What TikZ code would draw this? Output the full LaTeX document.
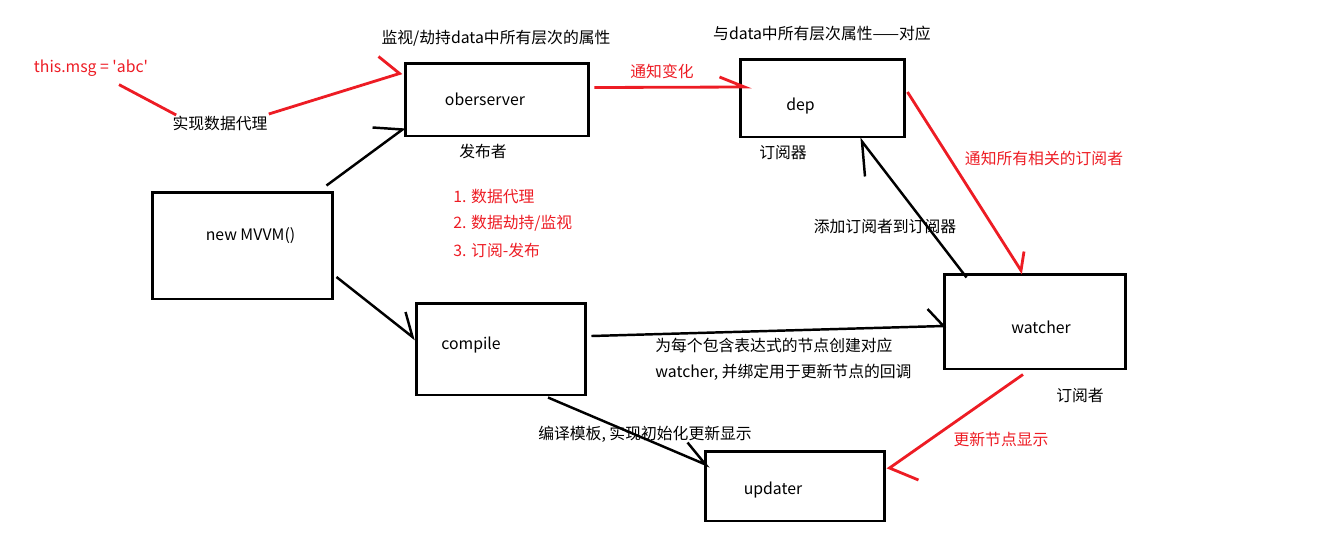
\documentclass[tikz,border=0pt]{standalone}
\usepackage{fontspec}
\setmainfont{Noto Sans CJK SC}
\newfontfamily\plainfont{Noto Sans CJK SC}
\usetikzlibrary{calc}
\definecolor{pred}{HTML}{ED1C24}
\tikzset{
  x=0.02cm, y=-0.02cm,
  box/.style={draw, line width=1.7pt, rectangle, inner sep=0pt},
  lbl/.style={font=\fontsize{9pt}{11pt}\selectfont, inner sep=0pt, text=black},
  rlbl/.style={lbl, text=pred},
  conn/.style={line width=1.4pt, black},
  rconn/.style={line width=1.6pt, pred},
}
\begin{document}
\begin{tikzpicture}
\useasboundingbox (0,0) rectangle (1323,559);
% boxes
\node[box, minimum width=3.68cm, minimum height=1.46cm] (obs) at (497,99.5) {};
\node[box, minimum width=3.30cm, minimum height=1.56cm] (dep) at (822.5,98) {};
\node[box, minimum width=3.62cm, minimum height=2.14cm] (mvvm) at (242.5,245.5) {};
\node[box, minimum width=3.40cm, minimum height=1.84cm] (comp) at (501,349) {};
\node[box, minimum width=3.64cm, minimum height=1.90cm] (watch) at (1035,321.5) {};
\node[box, minimum width=3.60cm, minimum height=1.40cm] (upd) at (795,486) {};
% box texts
\node[lbl] (obs-t) at ($(obs.center)+(-12,0)$) {oberserver};
\node[lbl] (dep-t) at ($(dep.center)+(-22,8)$) {dep};
\node[lbl] (mvvm-t) at ($(mvvm.center)+(8,-10)$) {new MVVM()};
\node[lbl] (comp-t) at ($(comp.center)+(-30,-4)$) {compile};
\node[lbl] (watch-t) at ($(watch.center)+(6,6)$) {watcher};
\node[lbl] (upd-t) at ($(upd.center)+(-22,4)$) {updater};
% other texts
\node[rlbl, font=\plainfont\fontsize{9pt}{11pt}\selectfont] (msg) at (91,68) {this.msg = 'abc'};
\node[lbl] (proxy) at (220,123) {实现数据代理};
\node[lbl] (hijack) at (496,38) {监视/劫持data中所有层次的属性};
\node[lbl] (pub) at (483,151) {发布者};
\node[rlbl, anchor=west] (l1) at (453,196) {1. 数据代理};
\node[rlbl, anchor=west] (l2) at (453,223) {2. 数据劫持/监视};
\node[rlbl, anchor=west] (l3) at (453,250) {3. 订阅-发布};
\node[rlbl] (notify) at (662,71) {通知变化};
\node[lbl] (corr) at (822,33) {与data中所有层次属性——对应};
\node[lbl] (depsub) at (783,153) {订阅器};
\node[rlbl] (notall) at (1044,158) {通知所有相关的订阅者};
\node[lbl] (addsub) at (885,226) {添加订阅者到订阅器};
\node[lbl, anchor=west] (c1) at (655,345) {为每个包含表达式的节点创建对应};
\node[lbl, anchor=west] (c2) at (655,372) {watcher, 并绑定用于更新节点的回调};
\node[lbl] (compl) at (645,434) {编译模板, 实现初始化更新显示};
\node[lbl] (watsub) at (1080,395) {订阅者};
\node[rlbl] (updshow) at (1001,439) {更新节点显示};
% connector end points
\coordinate (s1) at ($(mvvm.north east)+(-8,-5)$);
\coordinate (e1) at ($(obs.south west)+(-1,-8)$);
\coordinate (e2) at ($(obs.north west)+(-4,12)$);
\coordinate (s3) at ($(obs.east)+(4,-12)$);
\coordinate (e3) at ($(dep.west)+(6,-11)$);
\coordinate (s4) at ($(dep.east)+(1,-6)$);
\coordinate (e4) at ($(watch.north)+(-14,-2)$);
\coordinate (s5) at ($(watch.north west)+(24,5)$);
\coordinate (e5) at ($(dep.south)+(39.5,3)$);
\coordinate (s6) at ($(mvvm.east)+(2,31.5)$);
\coordinate (e6) at ($(comp.west)+(-2,-12)$);
\coordinate (s7) at ($(comp.east)+(4,-13)$);
\coordinate (e7) at ($(watch.west)+(1,4.5)$);
\coordinate (s8) at ($(comp.south)+(47,1)$);
\coordinate (e8) at ($(upd.north west)+(2,15)$);
\coordinate (s9) at ($(watch.south)+(-12,4)$);
\coordinate (e9) at ($(upd.east)+(3,-18)$);
% black connectors
\draw[conn] (s1) -- (e1) -- ++(-30,-2);
\draw[conn] (s5) -- (e5) -- ++(3,35);
\draw[conn] (s6) -- (e6) -- ++(-7,-25);
\draw[conn] (s7) -- (e7) -- ++(-16,-17);
\draw[conn] (s8) -- (e8) -- ++(-18,-22);
% red connectors
\draw[rconn] ($(msg.south)+(28,8)$) -- ($(proxy.west)+(4,-8)$);
\draw[rconn] ($(proxy.east)+(1,-9)$) -- (e2) -- ++(-21,-17);
\draw[rconn] (s3) -- (e3) -- ++(-25,-10);
\draw[rconn] (s4) -- (e4) -- ++(3,-19);
\draw[rconn] (s9) -- (e9) -- ++(29,12);
\end{tikzpicture}
\end{document}
